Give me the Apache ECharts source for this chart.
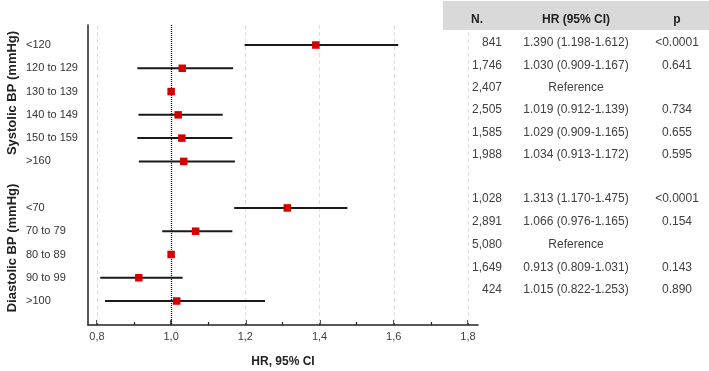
<!DOCTYPE html>
<html><head><meta charset="utf-8">
<script src="https://cdn.jsdelivr.net/npm/echarts@6/dist/echarts.min.js"></script>
<style>html,body{margin:0;padding:0;background:#fff}#c{width:709px;height:371px}</style>
</head><body><div id="c"></div>
<script>
const FONT = 'Liberation Sans, Arial, sans-serif';
const sysCategories = ['<120', '120 to 129', '130 to 139', '140 to 149', '150 to 159', '>160'];
const sysHR   = [1.390, 1.030, 1.000, 1.019, 1.029, 1.034];
const sysLow  = [1.198, 0.909, null, 0.912, 0.909, 0.913];
const sysHigh = [1.612, 1.167, null, 1.139, 1.165, 1.172];
const sysN    = ['841', '1,746', '2,407', '2,505', '1,585', '1,988'];
const sysP    = ['<0.0001', '0.641', '', '0.734', '0.655', '0.595'];

const diaCategories = ['<70', '70 to 79', '80 to 89', '90 to 99', '>100'];
const diaHR   = [1.313, 1.066, 1.000, 0.913, 1.015];
const diaLow  = [1.170, 0.976, null, 0.809, 0.822];
const diaHigh = [1.475, 1.165, null, 1.031, 1.253];
const diaN    = ['1,028', '2,891', '5,080', '1,649', '424'];
const diaP    = ['<0.0001', '0.154', '', '0.143', '0.890'];

const xTicks = [0.8, 1.0, 1.2, 1.4, 1.6, 1.8];
const xMinorTicks = [0.9, 1.1, 1.3, 1.5, 1.7];
const gridLineValues = [0.8, 1.2, 1.4, 1.6, 1.8];
const referenceValue = 1.0;
const groupTitles = ['Systolic BP (mmHg)', 'Diastolic BP (mmHg)'];
const tableHeader = ['N.', 'HR (95% CI)', 'p'];
const referenceText = 'Reference';

// rows (systolic block, blank row, diastolic block)
const rows = [];
sysCategories.forEach((c, i) => rows.push({pos: i, group: 0, idx: i, label: c, hr: sysHR[i], lo: sysLow[i], hi: sysHigh[i], n: sysN[i], p: sysP[i]}));
diaCategories.forEach((c, i) => rows.push({pos: sysCategories.length + 1 + i, group: 1, idx: i, label: c, hr: diaHR[i], lo: diaLow[i], hi: diaHigh[i], n: diaN[i], p: diaP[i]}));
const labelByPos = {};
rows.forEach(r => labelByPos[r.pos] = r.label);

const ciData = rows.filter(r => r.lo != null).map(r => [r.lo, r.hi, r.pos]);
const pointData = rows.map(r => [r.hr, r.pos]);

// table graphics
const textColor = '#404040';
const tableFont = '12px ' + FONT;
const graphics = [];
graphics.push({type: 'rect', shape: {x: 443, y: 1, width: 266, height: 29}, style: {fill: '#d9d9d9'}, z: 0});
const headerX = [477, 576, 677];
tableHeader.forEach((h, i) => graphics.push({type: 'text', x: headerX[i], y: 20, style: {text: h, font: 'bold 12px ' + FONT, fill: '#222', align: 'center', verticalAlign: 'middle'}}));
rows.forEach(r => {
  const y = r.group === 0 ? 43 + r.idx * 22.3 : 198.5 + r.idx * 22.9;
  graphics.push({type: 'text', x: 502, y: y, style: {text: r.n, font: tableFont, fill: textColor, align: 'right', verticalAlign: 'middle'}});
  const hrText = r.lo == null ? referenceText : r.hr.toFixed(3) + ' (' + r.lo.toFixed(3) + '-' + r.hi.toFixed(3) + ')';
  graphics.push({type: 'text', x: 576, y: y, style: {text: hrText, font: tableFont, fill: textColor, align: 'center', verticalAlign: 'middle'}});
  if (r.p) graphics.push({type: 'text', x: 677, y: y, style: {text: r.p, font: tableFont, fill: textColor, align: 'center', verticalAlign: 'middle'}});
});
const titleY = [93, 248];
groupTitles.forEach((t, i) => graphics.push({type: 'text', x: 12, y: titleY[i], rotation: Math.PI / 2, style: {text: t, font: 'bold 13px ' + FONT, fill: '#222', align: 'center', verticalAlign: 'middle'}}));

const chart = echarts.init(document.getElementById('c'), null, {renderer: 'canvas'});
chart.setOption({
  animation: false,
  backgroundColor: '#fff',
  textStyle: {fontFamily: FONT},
  grid: {left: 88, top: 25, width: 390, height: 300, containLabel: false, outerBoundsMode: 'none'},
  xAxis: [{
    type: 'value', min: 0.776, max: 1.827, position: 'bottom',
    axisLine: {show: true, onZero: false, lineStyle: {color: '#222', width: 1.5}},
    axisTick: {show: true, inside: true, length: 5, customValues: xTicks, lineStyle: {color: '#222', width: 1.5}},
    axisLabel: {customValues: xTicks, formatter: v => v.toFixed(1).replace('.', ','), fontSize: 11, color: textColor, margin: 6, fontFamily: FONT},
    splitLine: {show: false},
    name: 'HR, 95% CI', nameLocation: 'middle', nameGap: 31,
    nameTextStyle: {fontWeight: 'bold', fontSize: 12, color: '#222', fontFamily: FONT}
  }, {
    type: 'value', min: 0.776, max: 1.827, position: 'bottom',
    axisLine: {show: false, onZero: false},
    axisTick: {show: true, inside: true, length: 3, customValues: xMinorTicks, lineStyle: {color: '#222', width: 1.2}},
    axisLabel: {show: false},
    splitLine: {show: false}
  }],
  yAxis: {
    type: 'value', inverse: true, min: -0.86, max: 12.03, position: 'left',
    axisLine: {show: true, onZero: false, lineStyle: {color: '#222', width: 1.5}},
    axisTick: {show: false},
    splitLine: {show: false},
    axisLabel: {customValues: rows.map(r => r.pos), formatter: v => labelByPos[Math.round(v)] || '', align: 'left', margin: 62, fontSize: 11, color: '#333', fontFamily: FONT}
  },
  series: [{
    type: 'custom',
    xAxisIndex: 0,
    data: ciData,
    encode: {x: [0, 1], y: 2},
    z: 2,
    renderItem: function (params, api) {
      const s = api.coord([api.value(0), api.value(2)]);
      const e = api.coord([api.value(1), api.value(2)]);
      return {type: 'line', shape: {x1: s[0], y1: s[1], x2: e[0], y2: e[1]}, style: {stroke: '#1a1a1a', lineWidth: 2}};
    },
    markLine: {
      silent: true, symbol: 'none', label: {show: false},
      lineStyle: {type: [4, 3], color: '#dedede', width: 1},
      data: gridLineValues.map(v => ({xAxis: v})),
      z: 1
    }
  }, {
    type: 'scatter',
    xAxisIndex: 0,
    data: pointData,
    symbol: 'rect', symbolSize: 7.5,
    itemStyle: {color: '#d40000', opacity: 1},
    z: 5,
    markLine: {
      silent: true, symbol: 'none', label: {show: false},
      lineStyle: {type: [1, 1], color: '#000', width: 1.3},
      data: [{xAxis: referenceValue}]
    }
  }],
  graphic: graphics
});
</script></body></html>
